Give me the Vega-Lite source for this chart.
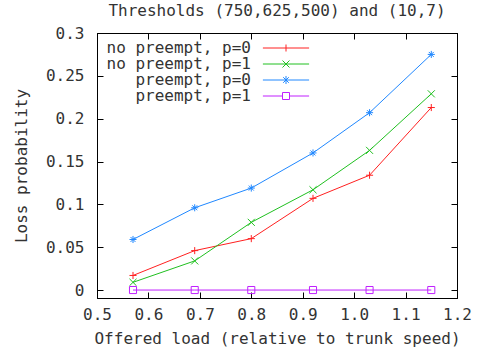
{
  "$schema": "https://vega.github.io/schema/vega-lite/v6.json",
  "width": 360,
  "height": 265,
  "autosize": {"type": "none"},
  "padding": {"left": 97, "top": 33, "right": 20, "bottom": 56},
  "background": "white",
  "title": {
    "text": "Thresholds (750,625,500) and (10,7)",
    "font": "DejaVu Sans Mono",
    "fontSize": 16,
    "fontWeight": "normal",
    "color": "#333",
    "anchor": "middle",
    "frame": "group",
    "baseline": "alphabetic",
    "offset": -7
  },
  "config": {
    "font": "DejaVu Sans Mono",
    "view": {"stroke": "black", "strokeWidth": 1},
    "axis": {
      "grid": false,
      "domainColor": "black",
      "tickColor": "black",
      "tickSize": -6,
      "labelFlush": false,
      "labelOverlap": false,
      "labelFont": "DejaVu Sans Mono",
      "labelFontSize": 16,
      "labelColor": "#333",
      "titleFont": "DejaVu Sans Mono",
      "titleFontSize": 16,
      "titleFontWeight": "normal",
      "titleColor": "#333"
    }
  },
  "data": {
    "values": [
      {"load": 0.57, "loss": 0.017, "series": "no preempt, p=0"},
      {"load": 0.69, "loss": 0.046, "series": "no preempt, p=0"},
      {"load": 0.80, "loss": 0.060, "series": "no preempt, p=0"},
      {"load": 0.92, "loss": 0.107, "series": "no preempt, p=0"},
      {"load": 1.03, "loss": 0.134, "series": "no preempt, p=0"},
      {"load": 1.15, "loss": 0.213, "series": "no preempt, p=0"},
      {"load": 0.57, "loss": 0.009, "series": "no preempt, p=1"},
      {"load": 0.69, "loss": 0.034, "series": "no preempt, p=1"},
      {"load": 0.80, "loss": 0.079, "series": "no preempt, p=1"},
      {"load": 0.92, "loss": 0.117, "series": "no preempt, p=1"},
      {"load": 1.03, "loss": 0.163, "series": "no preempt, p=1"},
      {"load": 1.15, "loss": 0.229, "series": "no preempt, p=1"},
      {"load": 0.57, "loss": 0.059, "series": "preempt, p=0"},
      {"load": 0.69, "loss": 0.096, "series": "preempt, p=0"},
      {"load": 0.80, "loss": 0.119, "series": "preempt, p=0"},
      {"load": 0.92, "loss": 0.160, "series": "preempt, p=0"},
      {"load": 1.03, "loss": 0.207, "series": "preempt, p=0"},
      {"load": 1.15, "loss": 0.275, "series": "preempt, p=0"},
      {"load": 0.57, "loss": 0, "series": "preempt, p=1"},
      {"load": 0.69, "loss": 0, "series": "preempt, p=1"},
      {"load": 0.80, "loss": 0, "series": "preempt, p=1"},
      {"load": 0.92, "loss": 0, "series": "preempt, p=1"},
      {"load": 1.03, "loss": 0, "series": "preempt, p=1"},
      {"load": 1.15, "loss": 0, "series": "preempt, p=1"}
    ]
  },
  "layer": [
    {
      "mark": {"type": "line", "strokeWidth": 1},
      "encoding": {
        "x": {
          "field": "load", "type": "quantitative",
          "scale": {"domain": [0.5, 1.2], "nice": false, "zero": false},
          "axis": {
            "orient": "bottom",
            "values": [0.5, 0.6, 0.7, 0.8, 0.9, 1.0, 1.1, 1.2],
            "format": ".1f",
            "labelPadding": 14,
            "title": "Offered load (relative to trunk speed)",
            "titlePadding": 8
          }
        },
        "y": {
          "field": "loss", "type": "quantitative",
          "scale": {"domain": [-0.0093, 0.3], "nice": false, "zero": false},
          "axis": {
            "orient": "left",
            "values": [0, 0.05, 0.1, 0.15, 0.2, 0.25, 0.3],
            "format": "~g",
            "labelPadding": 19,
            "title": "Loss probability",
            "titlePadding": 16
          }
        },
        "color": {
          "field": "series", "type": "nominal",
          "scale": {
            "domain": ["no preempt, p=0", "no preempt, p=1", "preempt, p=0", "preempt, p=1"],
            "range": ["#ff2020", "#20c020", "#2088ff", "#c020ff"]
          },
          "legend": {
            "orient": "none",
            "legendX": 181,
            "legendY": 7,
            "title": null,
            "padding": 0,
            "rowPadding": 0,
            "symbolSize": 49,
            "symbolStrokeWidth": 1,
            "labelAlign": "right",
            "labelOffset": -43,
            "labelFont": "DejaVu Sans Mono",
            "labelFontSize": 16,
            "labelColor": "#333",
            "labelLimit": 0,
            "encode": {
              "symbols": {
                "update": {
                  "shape": {"signal": "datum.value === 'no preempt, p=0' ? 'M-6.6,0H6.6M0,-1V1' : datum.value === 'no preempt, p=1' ? 'M-6.6,0H6.6M-1,-1L1,1M-1,1L1,-1' : datum.value === 'preempt, p=0' ? 'M-6.6,0H6.6M0,-1.15V1.15M-0.8,-0.8L0.8,0.8M-0.8,0.8L0.8,-0.8' : 'M-6.6,0H-1M1,0H6.6M-1,-1H1V1H-1Z'"},
                  "fill": {"value": "transparent"},
                  "strokeWidth": {"value": 1},
                  "opacity": {"value": 1}
                }
              }
            }
          }
        }
      }
    },
    {
      "transform": [{"filter": "datum.series === 'no preempt, p=0'"}],
      "mark": {"type": "point", "shape": "M-1,0H1M0,-1V1", "filled": false, "size": 50, "strokeWidth": 1, "opacity": 1},
      "encoding": {
        "x": {
          "field": "load", "type": "quantitative",
          "axis": {
            "orient": "top",
            "values": [0.5, 0.6, 0.7, 0.8, 0.9, 1.0, 1.1, 1.2],
            "labels": false,
            "title": null
          }
        },
        "y": {
          "field": "loss", "type": "quantitative",
          "axis": {
            "orient": "right",
            "values": [0, 0.05, 0.1, 0.15, 0.2, 0.25, 0.3],
            "labels": false,
            "title": null
          }
        },
        "stroke": {
          "field": "series", "type": "nominal",
          "scale": {
            "domain": ["no preempt, p=0", "no preempt, p=1", "preempt, p=0", "preempt, p=1"],
            "range": ["#ff2020", "#20c020", "#2088ff", "#c020ff"]
          },
          "legend": null
        }
      }
    },
    {
      "transform": [{"filter": "datum.series === 'no preempt, p=1'"}],
      "mark": {"type": "point", "shape": "M-1,-1L1,1M-1,1L1,-1", "filled": false, "size": 50, "strokeWidth": 1, "opacity": 1},
      "encoding": {
        "x": {"field": "load", "type": "quantitative", "axis": null},
        "y": {"field": "loss", "type": "quantitative", "axis": null},
        "stroke": {"field": "series", "type": "nominal", "legend": null}
      }
    },
    {
      "transform": [{"filter": "datum.series === 'preempt, p=0'"}],
      "mark": {"type": "point", "shape": "M-1,0H1M0,-1V1M-0.7,-0.7L0.7,0.7M-0.7,0.7L0.7,-0.7", "filled": false, "size": 50, "strokeWidth": 1, "opacity": 1},
      "encoding": {
        "x": {"field": "load", "type": "quantitative", "axis": null},
        "y": {"field": "loss", "type": "quantitative", "axis": null},
        "stroke": {"field": "series", "type": "nominal", "legend": null}
      }
    },
    {
      "transform": [{"filter": "datum.series === 'preempt, p=1'"}],
      "mark": {"type": "point", "shape": "M-1,-1H1V1H-1Z", "filled": false, "size": 50, "strokeWidth": 1, "opacity": 1},
      "encoding": {
        "x": {"field": "load", "type": "quantitative", "axis": null},
        "y": {"field": "loss", "type": "quantitative", "axis": null},
        "stroke": {"field": "series", "type": "nominal", "legend": null}
      }
    }
  ],
  "resolve": {"axis": {"x": "independent", "y": "independent"}}
}
